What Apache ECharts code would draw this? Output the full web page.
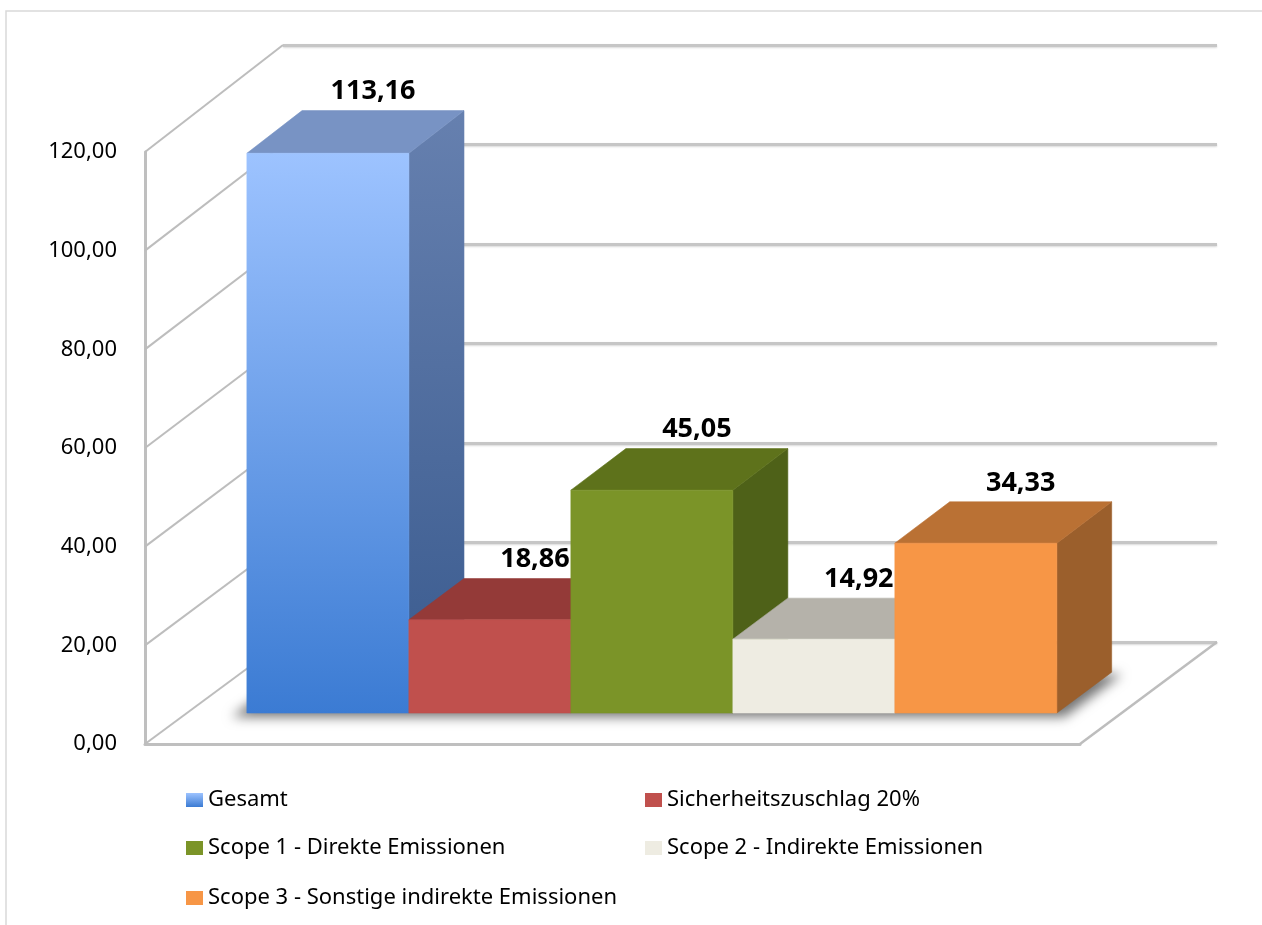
<!DOCTYPE html>
<html><head><meta charset="utf-8">
<script src="https://cdn.jsdelivr.net/npm/echarts@6/dist/echarts.min.js"></script>
<style>html,body{margin:0;padding:0;background:#fff}#c{width:1262px;height:925px}</style>
</head><body><div id="c"></div>
<script>
// ---- data ----
const categories = ['Gesamt', 'Sicherheitszuschlag 20%', 'Scope 1 - Direkte Emissionen', 'Scope 2 - Indirekte Emissionen', 'Scope 3 - Sonstige indirekte Emissionen'];
const values = [113.16, 18.86, 45.05, 14.92, 34.33];
const yTicks = [0, 20, 40, 60, 80, 100, 120];
const yMin = 0, yMax = 120, yStep = 20;

// ---- style / layout ----
const FONT = '"Noto Sans", "DejaVu Sans", sans-serif';
const X_MIN = -0.37, X_MAX = 5.40;      // floor extent in bar-width units
const D_FRONT = 0.304, D_BACK = 0.704;  // bar depth (0 = floor front edge, 1 = back wall)
const SHIFT = 3000;                     // off-screen offset used to draw a pure blurred shadow
const fmt = v => v.toFixed(2).replace('.', ',');
const grad = (a, b) => ({type: 'linear', x: 0, y: 0, x2: 0, y2: 1, colorStops: [{offset: 0, color: a}, {offset: 1, color: b}]});
const FACES = [
  {front: grad('#9DC3FF', '#3B7BD3'), top: '#7893C4', side: grad('#6680AF', '#395A8E')},
  {front: '#C0504D', top: '#943A38', side: '#7E302E'},
  {front: '#7B9428', top: '#5E721B', side: '#4E6118'},
  {front: '#EEECE2', top: '#B5B2AA', side: '#A19E96'},
  {front: '#F79646', top: '#BA7134', side: '#9B5F2C'}
];
const LEG_X = [186, 645], LEG_Y = [800, 848, 898];

const chart = echarts.init(document.getElementById('c'));

function P(x, v, d) {
  const f = chart.convertToPixel({gridIndex: 0}, [x, v]);
  const b = chart.convertToPixel({gridIndex: 1}, [x, v]);
  return [f[0] + (b[0] - f[0]) * d, f[1] + (b[1] - f[1]) * d];
}
function poly(points, fill, extra) {
  return Object.assign({type: 'polygon', shape: {points}, style: {fill, stroke: fill, lineWidth: 0.6}}, extra || {});
}

function makeBar(idx) {
  return function (params, api) {
    const i = api.value(0), v = api.value(1);
    const f = FACES[idx];
    const x0 = i, x1 = i + 1;
    const fBL = P(x0, 0, D_FRONT), fBR = P(x1, 0, D_FRONT), fTL = P(x0, v, D_FRONT), fTR = P(x1, v, D_FRONT);
    const bTL = P(x0, v, D_BACK), bTR = P(x1, v, D_BACK), bBR = P(x1, 0, D_BACK);
    const lab = P(i + 0.5, v, D_BACK);
    return {
      type: 'group',
      children: [
        poly([fBR, bBR, bTR, fTR], f.side),
        poly([fTL, fTR, bTR, bTL], f.top),
        poly([fBL, fBR, fTR, fTL], f.front),
        {type: 'text', z2: 100, style: {text: fmt(v), x: lab[0] - 10, y: lab[1] - 19, align: 'center', verticalAlign: 'middle',
          fill: '#000', font: 'bold 27px ' + FONT}}
      ]
    };
  };
}

const series = [
  { // left wall diagonal grid lines
    type: 'custom', silent: true, xAxisIndex: 0, yAxisIndex: 0,
    data: yTicks.map(v => [X_MIN, v]),
    renderItem: (params, api) => {
      const x = api.value(0), v = api.value(1);
      const a = P(x, v, 0), b = P(x, v, 1);
      return {type: 'line', shape: {x1: a[0], y1: a[1], x2: b[0], y2: b[1]}, style: {stroke: '#BDBDBD', lineWidth: 2}};
    }
  },
  { // floor right edge
    type: 'custom', silent: true, xAxisIndex: 0, yAxisIndex: 0,
    data: [[X_MAX, yMin]],
    renderItem: (params, api) => {
      const x = api.value(0), v = api.value(1);
      const a = P(x, v, 0), b = P(x, v, 1);
      return {type: 'line', shape: {x1: a[0], y1: a[1], x2: b[0], y2: b[1]}, style: {stroke: '#BDBDBD', lineWidth: 2.5}};
    }
  },
  { // soft floor shadow under bars (shape drawn off-screen, only its blurred shadow shows)
    type: 'custom', silent: true, xAxisIndex: 0, yAxisIndex: 0,
    data: [[0, categories.length]],
    renderItem: (params, api) => {
      const a = api.value(0) - 0.06, b = api.value(1) + 0.08;
      const pts = [P(a, 0, D_FRONT - 0.04), P(b, 0, D_FRONT - 0.04), P(b, 0, D_BACK - 0.02), P(a, 0, D_BACK - 0.02)]
        .map(p => [p[0] - SHIFT, p[1]]);
      return {type: 'polygon', shape: {points: pts},
        style: {fill: '#000', shadowBlur: 12, shadowOffsetX: SHIFT, shadowColor: 'rgba(0,0,0,0.55)'}};
    }
  }
].concat(categories.map((name, i) => ({
  type: 'custom', name, xAxisIndex: 0, yAxisIndex: 0,
  itemStyle: {color: FACES[i].front},
  data: [[i, values[i]]],
  renderItem: makeBar(i)
})));

chart.setOption({
  animation: false,
  backgroundColor: '#fff',
  graphic: [{type: 'rect', z: -10, shape: {x: 6, y: 11, width: 1300, height: 1000}, style: {fill: 'none', stroke: '#D9D9D9', lineWidth: 1.5}}],
  grid: [
    {left: 145, right: 182, top: 152, bottom: 181},
    {left: 283, right: 45, top: 45, bottom: 283}
  ],
  xAxis: [
    {gridIndex: 0, type: 'value', min: X_MIN, max: X_MAX,
      axisLine: {show: true, onZero: false, lineStyle: {color: '#BFBFBF', width: 3}},
      axisTick: {show: false}, axisLabel: {show: false}, splitLine: {show: false}},
    {gridIndex: 1, type: 'value', min: X_MIN, max: X_MAX, show: false}
  ],
  yAxis: [
    {gridIndex: 0, type: 'value', min: yMin, max: yMax, interval: yStep,
      axisLine: {show: true, onZero: false, lineStyle: {color: '#BFBFBF', width: 3}},
      axisTick: {show: false}, splitLine: {show: false},
      axisLabel: {formatter: v => fmt(v), margin: 28, color: '#000', fontSize: 22, fontFamily: FONT}},
    {gridIndex: 1, type: 'value', min: yMin, max: yMax, interval: yStep,
      axisLine: {show: false}, axisTick: {show: false}, axisLabel: {show: false},
      splitLine: {show: true, lineStyle: {color: '#C6C6C6', width: 3, shadowColor: 'rgba(0,0,0,0.15)', shadowBlur: 2, shadowOffsetY: 1}}}
  ],
  legend: categories.map((name, i) => ({
    data: [name], left: LEG_X[i % 2], top: LEG_Y[Math.floor(i / 2)] - 11, padding: 0,
    icon: 'rect', itemWidth: 17, itemHeight: 14, selectedMode: false,
    textStyle: {fontSize: 22, lineHeight: 22, color: '#000', fontFamily: FONT}
  })),
  series
});
</script></body></html>
